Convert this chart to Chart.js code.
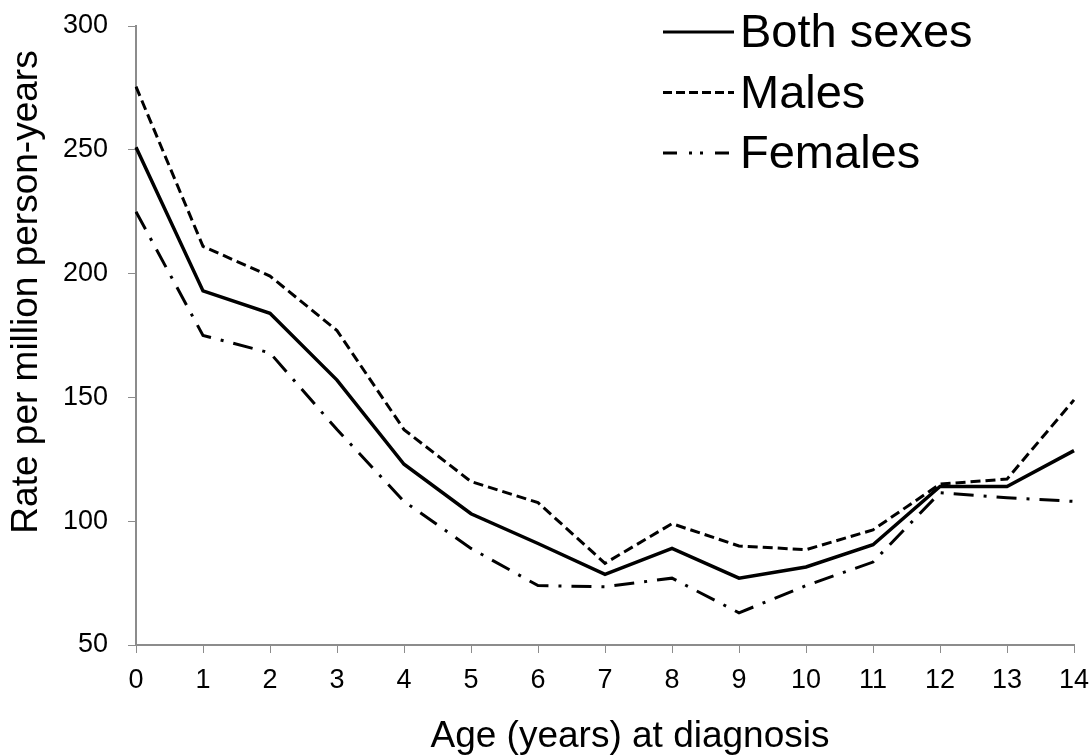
<!DOCTYPE html>
<html lang="en">
<head>
  <meta charset="UTF-8" />
  <title>Rate per million person-years by age</title>
  <script src="https://cdn.jsdelivr.net/npm/chart.js"></script>
  <style>
    html, body { margin: 0; padding: 0; background: #fff; }
    #wrap { width: 1091px; height: 755px; }
  </style>
</head>
<body>
  <div id="wrap"><canvas id="rateChart" width="1091" height="755"></canvas></div>

  <script>
    const ages = ['0', '1', '2', '3', '4', '5', '6', '7', '8', '9', '10', '11', '12', '13', '14'];
    const bothSexes = [251, 193, 184, 157, 123, 103, 91, 78.5, 89, 77, 81.5, 90.5, 114, 114, 128.5];
    const males = [275.5, 211, 199, 177, 137, 116, 107.5, 83, 99, 90, 88.5, 96.5, 115, 117, 149];
    const females = [225, 175, 168, 137, 108, 89, 74, 73.5, 77, 63, 74, 83.5, 111.5, 109.5, 108];

    const xTitle = 'Age (years) at diagnosis';
    const yTitle = 'Rate per million person-years';

    const axisGray = '#8c8c8c';
    const fontFamily = '"Liberation Sans", Arial, sans-serif';

    // legend and axis titles drawn by hand so they sit where the original has them
    const decorations = {
      id: 'decorations',
      afterDraw(chart) {
        const ctx = chart.ctx;
        ctx.save();
        ctx.fillStyle = '#000';

        // legend, top right
        ctx.font = '47px ' + fontFamily;
        ctx.textBaseline = 'alphabetic';
        ctx.textAlign = 'left';
        chart.data.datasets.forEach((ds, i) => {
          const base = 47 + i * 60.5;
          const y = base - 15;
          ctx.beginPath();
          ctx.strokeStyle = '#000';
          ctx.lineWidth = 3;
          ctx.setLineDash(ds.legendDash || ds.borderDash || []);
          ctx.moveTo(663, y);
          ctx.lineTo(734, y);
          ctx.stroke();
          ctx.setLineDash([]);
          ctx.fillText(ds.label, 740, base);
        });

        // axis titles
        ctx.font = '37px ' + fontFamily;
        ctx.textAlign = 'center';
        ctx.fillText(xTitle, 630, 747);

        ctx.translate(37, 292);
        ctx.rotate(-Math.PI / 2);
        ctx.fillText(yTitle, 0, 0);
        ctx.restore();
      }
    };

    new Chart(document.getElementById('rateChart'), {
      type: 'line',
      data: {
        labels: ages,
        datasets: [
          { label: 'Both sexes', data: bothSexes, borderColor: '#000', borderWidth: 3.5, pointRadius: 0, tension: 0 },
          { label: 'Males', data: males, borderColor: '#000', borderWidth: 3, borderDash: [10, 5], legendDash: [9, 4], pointRadius: 0, tension: 0 },
          { label: 'Females', data: females, borderColor: '#000', borderWidth: 3, borderDash: [20, 10, 3, 10], legendDash: [14, 12, 3, 8, 3, 12], pointRadius: 0, tension: 0 }
        ]
      },
      options: {
        responsive: false,
        animation: false,
        layout: { padding: { top: 26, right: 17, left: 0, bottom: 0 } },
        plugins: { legend: { display: false }, tooltip: { enabled: false } },
        scales: {
          x: {
            offset: false,
            border: { color: axisGray, width: 2 },
            grid: { drawOnChartArea: false, drawTicks: true, tickLength: 8, color: axisGray },
            ticks: { color: '#000', font: { size: 27, family: fontFamily }, padding: 11, maxRotation: 0, autoSkip: false },
            afterFit(scale) {
              scale.height = 110;
              scale.paddingLeft = 0;
              scale.paddingRight = 0;
            }
          },
          y: {
            min: 50,
            max: 300,
            border: { color: axisGray, width: 2 },
            grid: { drawOnChartArea: false, drawTicks: true, tickLength: 8, color: axisGray },
            ticks: { stepSize: 50, color: '#000', font: { size: 27, family: fontFamily }, padding: 20 },
            afterFit(scale) {
              scale.width = 136;
              scale.paddingTop = 0;
              scale.paddingBottom = 0;
            }
          }
        }
      },
      plugins: [decorations]
    });
  </script>
</body>
</html>
